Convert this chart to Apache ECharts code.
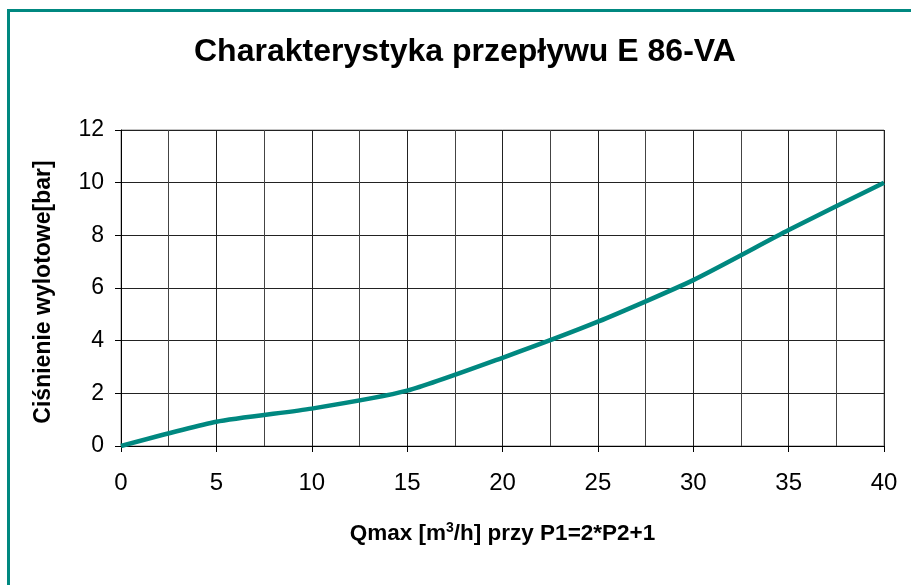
<!DOCTYPE html>
<html lang="pl">
<head>
<meta charset="UTF-8">
<title>Charakterystyka przepływu E 86-VA</title>
<script src="https://cdn.jsdelivr.net/npm/echarts@6/dist/echarts.min.js"></script>
<style>
body {margin: 0; padding: 0; background: white;}
#main {width: 911px; height: 585px;}
</style>
</head>
<body>
<div id="main"></div>
<script>
var flow = [0, 5, 10, 15, 20, 25, 30, 35, 40];
var pressure = [0, 0.92, 1.42, 2.1, 3.35, 4.72, 6.3, 8.2, 10];

var chart = echarts.init(document.getElementById('main'));
var font = 'Liberation Sans, Arial, sans-serif';

chart.setOption({
    animation: false,
    title: {
        text: 'Charakterystyka przepływu E 86-VA',
        left: 189,
        top: 31,
        textStyle: {fontFamily: font, fontSize: 32, fontWeight: 'bold', color: '#000'}
    },
    graphic: [
        {type: 'line', shape: {x1: 7, y1: 10.5, x2: 911, y2: 10.5}, style: {stroke: '#008880', lineWidth: 3}},
        {type: 'line', shape: {x1: 8.5, y1: 9, x2: 8.5, y2: 585}, style: {stroke: '#008880', lineWidth: 3}}
    ],
    grid: {
        left: 121, right: 27, top: 130, bottom: 139,
        show: true, borderColor: '#888', borderWidth: 1, backgroundColor: '#fff'
    },
    xAxis: {
        type: 'value',
        min: 0, max: 40, interval: 5,
        name: '{b|Qmax [m}{s|3}{b|/h] przy P1=2*P2+1}',
        nameLocation: 'middle',
        nameGap: 75,
        nameTextStyle: {
            rich: {
                b: {fontFamily: font, fontSize: 22.5, fontWeight: 'bold', color: '#000'},
                s: {fontFamily: font, fontSize: 14, fontWeight: 'bold', color: '#000', verticalAlign: 'top', padding: [0, 0, 12, 0]}
            }
        },
        axisLine: {show: true, lineStyle: {color: '#000', width: 1}},
        axisTick: {show: true, length: 6, lineStyle: {color: '#000'}},
        axisLabel: {fontFamily: font, fontSize: 24, color: '#000', margin: 25},
        splitLine: {show: true, lineStyle: {color: '#222', width: 1}},
        minorTick: {show: false, splitNumber: 2},
        minorSplitLine: {show: true, lineStyle: {color: '#444', width: 1}}
    },
    yAxis: {
        type: 'value',
        min: 0, max: 12, interval: 2,
        name: 'Ciśnienie wylotowe[bar]',
        nameLocation: 'middle',
        nameGap: 66,
        nameTextStyle: {fontFamily: font, fontSize: 23, fontWeight: 'bold', color: '#000', padding: [0, 8, 0, 0]},
        axisLine: {show: true, lineStyle: {color: '#000', width: 1}},
        axisTick: {show: true, length: 6, lineStyle: {color: '#000'}},
        axisLabel: {fontFamily: font, fontSize: 23, color: '#000', margin: 17},
        splitLine: {show: true, lineStyle: {color: '#222', width: 1}}
    },
    series: [{
        type: 'line',
        data: flow.map(function (q, i) { return [q, pressure[i]]; }),
        showSymbol: false,
        smooth: 0.2,
        lineStyle: {color: '#008880', width: 4.5},
        z: 5
    }]
});
</script>
</body>
</html>
